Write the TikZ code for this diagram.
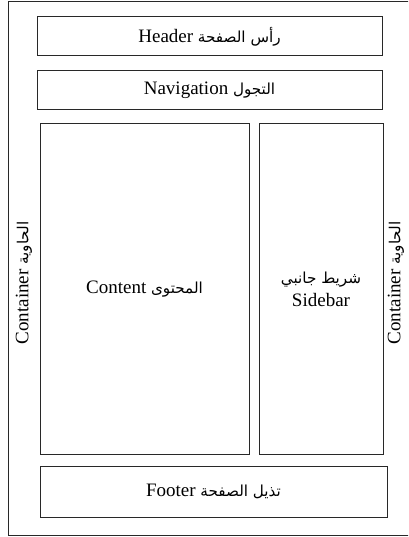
\documentclass[tikz,border=0pt]{standalone}
\usepackage{fontspec}
\setmainfont{Liberation Serif}
\newfontfamily\arabicfont[Script=Arabic,Scale=0.8]{DejaVu Sans}
\TeXXeTstate=1
\usetikzlibrary{positioning}
\definecolor{FrameGray}{RGB}{40, 40, 40}

\begin{document}
\begin{tikzpicture}[
        x=1pt, y=-1pt,
        node distance=14pt and 9pt,
        part/.style={draw=FrameGray, rectangle, line width=1pt, inner sep=0pt, align=center, font=\fontsize{19}{23}\selectfont},
        side/.style={rotate=90, inner sep=0pt, font=\fontsize{19}{23}\selectfont}
      ]
        \useasboundingbox (0,0) rectangle (408,537);
        \clip (0,0) rectangle (408,537);

        % Container
        \draw [FrameGray, line width=1pt] (8,2) rectangle (416,535.5);
        \node [side] (contL) at (24,283) {Container {\arabicfont\beginR الحاوية\endR}};
        \node [side] (contR) at (396,283) {Container {\arabicfont\beginR الحاوية\endR}};

        % Blocks
        \node [part, minimum width=345pt, minimum height=39pt] (header) at (209.5,36.5) {Header {\arabicfont\beginR رأس الصفحة\endR}};
        \node [part, minimum width=345pt, minimum height=39pt, below=14pt of header] (nav) {Navigation {\arabicfont\beginR التجول\endR}};
        \node [part, minimum width=209pt, minimum height=330pt] (content) at (144.5,289) {Content {\arabicfont\beginR المحتوى\endR}};
        \node [part, minimum width=124pt, minimum height=330pt, right=9pt of content] (sidebar) {{\arabicfont\beginR شريط جانبي\endR}\\Sidebar};
        \node [part, minimum width=347pt, minimum height=51pt] (footer) at (213.5,491.5) {Footer {\arabicfont\beginR تذيل الصفحة\endR}};
      \end{tikzpicture}
\end{document}
